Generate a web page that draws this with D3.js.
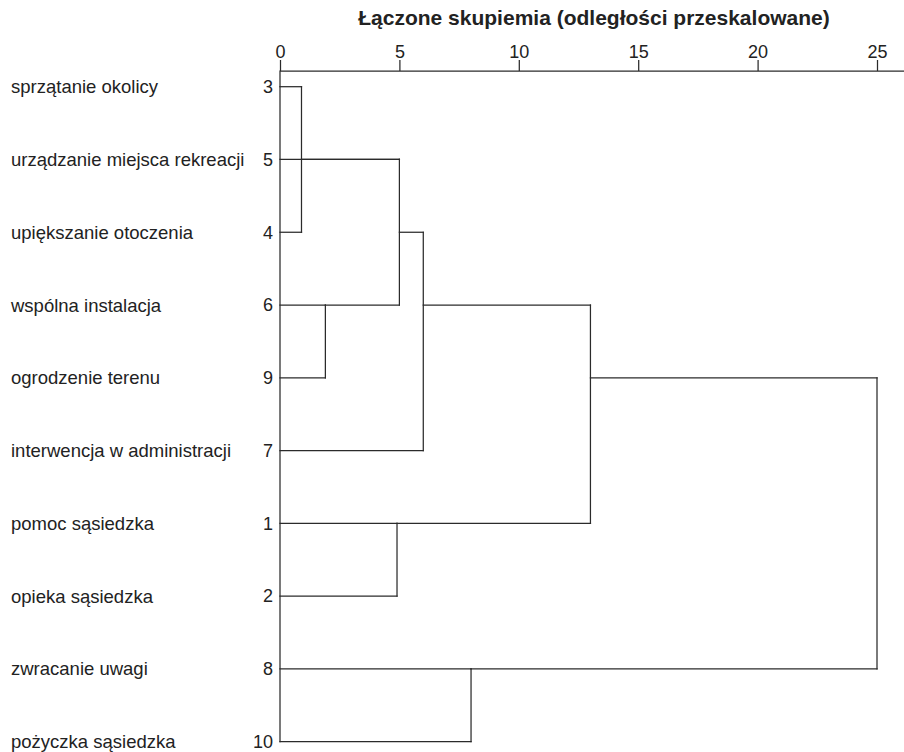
<!DOCTYPE html>
<html>
<head>
<meta charset="utf-8">
<script src="https://cdn.jsdelivr.net/npm/d3@7"></script>
<style>
  body { margin: 0; background: #fff; }
  text { font-family: "Liberation Sans", Arial, sans-serif; fill: #222; }
  .link { stroke: #2b2b2b; stroke-width: 1.25; fill: none; stroke-linecap: square; }
  .axis path, .axis line { stroke: #2b2b2b; stroke-width: 1.25; }
</style>
</head>
<body>
<div id="chart"></div>
<script>
// leaves in dendrogram order
var leafIds = [3, 5, 4, 6, 9, 7, 1, 2, 8, 10];
var leafNames = ["sprzątanie okolicy", "urządzanie miejsca rekreacji", "upiększanie otoczenia",
  "wspólna instalacja", "ogrodzenie terenu", "interwencja w administracji",
  "pomoc sąsiedzka", "opieka sąsiedzka", "zwracanie uwagi", "pożyczka sąsiedzka"];

// merge steps: [left, right, rescaled distance]; "cN" = result of step N
var mergeLeft  = [3,   "c0", 6,   "c1", "c3", 1,   "c4", 8,   "c6"];
var mergeRight = [4,   5,    9,   "c2", 7,    2,   "c5", 10,  "c7"];
var mergeDist  = [0.9, 5.0,  1.9, 5.0,  6.0,  4.9, 13.0, 8.0, 25.0];

var tickVals = [0, 5, 10, 15, 20, 25];
var title = "Łączone skupiemia (odległości przeskalowane)";

var width = 904, height = 752;

var svg = d3.select("#chart").append("svg")
  .attr("width", width)
  .attr("height", height);

var x = d3.scaleLinear().domain([0, 25]).range([280, 877]);
var y = d3.scalePoint().domain(leafIds).range([86.7, 741.7]);
var axisY = 71;

// title
svg.append("text")
  .attr("x", 594)
  .attr("y", 25)
  .attr("text-anchor", "middle")
  .style("font-size", "21px")
  .style("font-weight", "bold")
  .text(title);

// top axis
var ax = svg.append("g")
  .attr("class", "axis")
  .attr("transform", "translate(0," + axisY + ")")
  .call(d3.axisTop(x).tickValues(tickVals).tickSize(11).tickPadding(2).tickSizeOuter(0));
ax.select(".domain").attr("d", "M" + x(0) + ",0H" + width);
ax.selectAll("text").style("font-size", "18px").style("fill", "#222");

// leaf labels
svg.selectAll(".name")
  .data(leafIds)
  .enter().append("text")
  .attr("class", "name")
  .attr("x", 11)
  .attr("y", function(d) { return y(d); })
  .attr("dy", "0.35em")
  .style("font-size", "18.5px")
  .text(function(d, i) { return leafNames[i]; });

svg.selectAll(".num")
  .data(leafIds)
  .enter().append("text")
  .attr("class", "num")
  .attr("x", 273)
  .attr("y", function(d) { return y(d); })
  .attr("dy", "0.35em")
  .attr("text-anchor", "end")
  .style("font-size", "18px")
  .text(function(d) { return d; });

// left spine
svg.append("line")
  .attr("class", "link")
  .attr("x1", x(0)).attr("x2", x(0))
  .attr("y1", axisY).attr("y2", y(leafIds[leafIds.length - 1]));

// build nodes: row index + distance
var nodes = {};
leafIds.forEach(function(id, i) { nodes[id] = { row: i, dist: 0 }; });

var links = [];
mergeDist.forEach(function(d, i) {
  var a = nodes[mergeLeft[i]], b = nodes[mergeRight[i]];
  links.push({ x1: a.dist, x2: d, r1: a.row, r2: a.row });
  links.push({ x1: b.dist, x2: d, r1: b.row, r2: b.row });
  links.push({ x1: d, x2: d, r1: a.row, r2: b.row });
  nodes["c" + i] = { row: Math.floor((a.row + b.row) / 2), dist: d };
});

svg.selectAll(".link-seg")
  .data(links)
  .enter().append("line")
  .attr("class", "link")
  .attr("x1", function(d) { return x(d.x1); })
  .attr("x2", function(d) { return x(d.x2); })
  .attr("y1", function(d) { return y(leafIds[d.r1]); })
  .attr("y2", function(d) { return y(leafIds[d.r2]); });
</script>
</body>
</html>
